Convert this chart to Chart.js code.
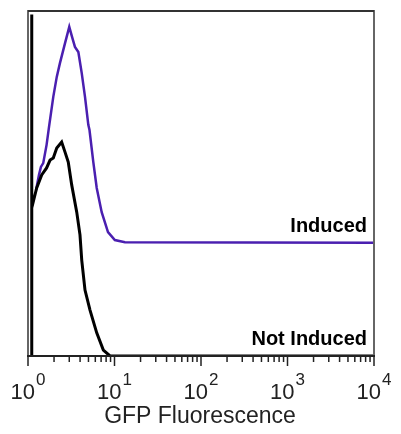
<!DOCTYPE html>
<html>
<head>
<meta charset="utf-8">
<script src="https://cdn.jsdelivr.net/npm/chart.js@4"></script>
<style>
  html, body { margin: 0; padding: 0; background: #fff; }
  #wrap { width: 401px; height: 434px; }
</style>
</head>
<body>
<div id="wrap"><canvas id="chart"></canvas></div>
<script>
// GFP fluorescence (x, log) vs. relative count (% of axis height)
const notInducedX = [1.1, 1.1, 1.11, 1.26, 1.44, 1.64, 1.80, 1.96, 2.15, 2.45, 2.68, 2.92, 3.20, 3.66, 3.99, 4.18, 4.56, 5.21, 6.23, 7.43, 8.88, 10000];
const notInducedY = [0, 99, 42.9, 48.7, 52.5, 54.5, 56.8, 57.4, 60.3, 62.0, 59.1, 56.2, 49.6, 41.7, 35.1, 27.8, 19.1, 13.3, 6.7, 1.7, 0, 0];

const inducedX = [1.24, 1.34, 1.41, 1.50, 1.64, 1.75, 1.96, 2.15, 2.34, 2.68, 3.00, 3.23, 3.49, 3.82, 4.18, 4.56, 4.98, 5.14, 5.69, 6.23, 7.11, 8.41, 10.1, 13.2, 10000];
const inducedY = [48.1, 52.5, 54.8, 55.9, 61.2, 66.4, 75.1, 80.9, 84.9, 90.7, 95.4, 92.5, 89.6, 88.1, 82.0, 75.1, 67.0, 65.5, 56.2, 48.7, 41.7, 35.9, 33.6, 33.0, 32.8];

const majorTicks = [1, 10, 100, 1000, 10000];
const tickExponents = ['0', '1', '2', '3', '4'];
const xTitle = 'GFP Fluorescence';
const seriesLabels = ['Not Induced', 'Induced'];

const toPoints = (xs, ys) => xs.map((x, i) => ({ x: x, y: ys[i] }));

const FONT = "Arial, 'Liberation Sans', sans-serif";

// draws the frame, log ticks with superscript labels, axis title and line labels
const decorations = {
  id: 'decorations',
  afterDatasetsDraw(chart) {
    const { ctx, chartArea: a, scales: { x, y } } = chart;
    ctx.save();

    // frame
    ctx.strokeStyle = '#666';
    ctx.lineWidth = 2;
    ctx.beginPath();
    ctx.moveTo(a.left, a.bottom);
    ctx.lineTo(a.left, a.top);
    ctx.lineTo(a.right, a.top);
    ctx.lineTo(a.right, a.bottom);
    ctx.stroke();
    ctx.strokeStyle = '#333';
    ctx.beginPath();
    ctx.moveTo(a.left, a.top);
    ctx.lineTo(a.right, a.top);
    ctx.stroke();

    // x axis line
    ctx.strokeStyle = '#222';
    ctx.lineWidth = 2;
    ctx.beginPath();
    ctx.moveTo(a.left - 1, a.bottom);
    ctx.lineTo(a.right + 1, a.bottom);
    ctx.stroke();

    // ticks
    ctx.lineWidth = 1.5;
    majorTicks.forEach((m, i) => {
      const px = x.getPixelForValue(m);
      ctx.beginPath();
      ctx.moveTo(px, a.bottom);
      ctx.lineTo(px, a.bottom + 10);
      ctx.stroke();
      if (i < majorTicks.length - 1) {
        for (let k = 2; k <= 9; k++) {
          const mx = x.getPixelForValue(m * k);
          ctx.beginPath();
          ctx.moveTo(mx, a.bottom);
          ctx.lineTo(mx, a.bottom + 6);
          ctx.stroke();
        }
      }
    });

    // tick labels 10^n
    ctx.fillStyle = '#222';
    ctx.textBaseline = 'alphabetic';
    majorTicks.forEach((m, i) => {
      const px = x.getPixelForValue(m);
      ctx.font = '22px ' + FONT;
      const wBase = ctx.measureText('10').width;
      ctx.font = '17px ' + FONT;
      const wExp = ctx.measureText(tickExponents[i]).width;
      const start = px - (wBase + wExp + 1) / 2;
      ctx.textAlign = 'left';
      ctx.font = '22px ' + FONT;
      ctx.fillText('10', start, a.bottom + 43);
      ctx.font = '17px ' + FONT;
      ctx.fillText(tickExponents[i], start + wBase + 1, a.bottom + 29);
    });

    // axis title
    ctx.font = '23px ' + FONT;
    ctx.textAlign = 'center';
    ctx.fillText(xTitle, (a.left + a.right) / 2 - 1, a.bottom + 67);

    // series labels, anchored to the flat tails of each curve
    ctx.font = 'bold 20px ' + FONT;
    ctx.fillStyle = '#000';
    ctx.textAlign = 'right';
    ctx.fillText(seriesLabels[1], a.right - 7, y.getPixelForValue(inducedY[inducedY.length - 1]) - 11);
    ctx.fillText(seriesLabels[0], a.right - 7, y.getPixelForValue(notInducedY[notInducedY.length - 1]) - 11);

    ctx.restore();
  }
};

new Chart(document.getElementById('chart'), {
  type: 'line',
  data: {
    datasets: [
      {
        label: seriesLabels[0],
        data: toPoints(notInducedX, notInducedY),
        borderColor: '#000',
        borderWidth: 3,
        pointRadius: 0,
        tension: 0,
        fill: false
      },
      {
        label: seriesLabels[1],
        data: toPoints(inducedX, inducedY),
        borderColor: '#4a1fb0',
        borderWidth: 2.5,
        pointRadius: 0,
        tension: 0,
        fill: false
      }
    ]
  },
  options: {
    responsive: true,
    maintainAspectRatio: false,
    animation: false,
    layout: { padding: { left: 28, right: 27, top: 11, bottom: 78 } },
    plugins: {
      legend: { display: false },
      tooltip: { enabled: false }
    },
    scales: {
      x: { type: 'logarithmic', min: 1, max: 10000, display: false },
      y: { type: 'linear', min: 0, max: 100, display: false }
    }
  },
  plugins: [decorations]
});
</script>
</body>
</html>
